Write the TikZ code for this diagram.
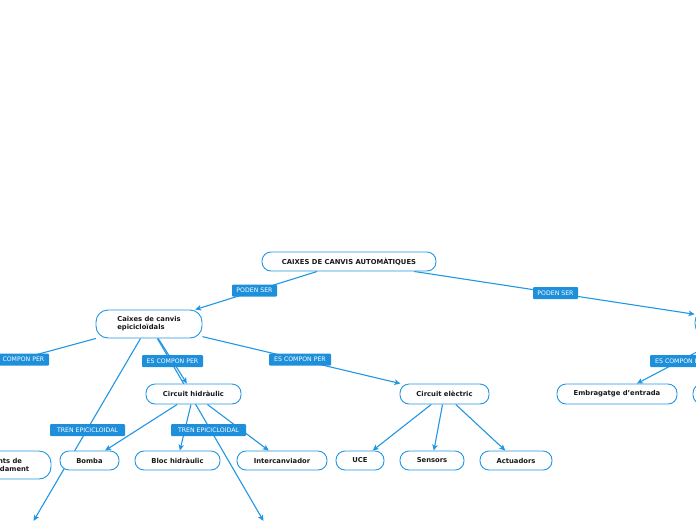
\documentclass[tikz,border=0pt]{standalone}
\usepackage{fontspec}
\setmainfont{DejaVu Sans}
\usetikzlibrary{arrows.meta}
\definecolor{mmblue}{RGB}{33,150,227}
\definecolor{lblblue}{RGB}{30,143,219}
\pgfdeclarelayer{bg}
\pgfsetlayers{bg,main}
\tikzset{
  topic/.style={draw=mmblue, line width=0.9pt, fill=white, rounded corners=9pt,
    inner sep=0pt, font=\fontsize{6.8}{8.2}\selectfont\bfseries, text=black!90},
  lbl/.style={fill=lblblue, text=white, rounded corners=1pt, inner sep=0pt,
    font=\fontsize{6.2}{6.5}\selectfont, minimum height=12pt},
  conn/.style={draw=mmblue, line width=1.1pt},
  arr/.style={conn, -{Stealth[length=6pt,width=5.5pt,inset=1.5pt]}},
}
\begin{document}
\begin{tikzpicture}[x=1pt,y=-1pt]
\useasboundingbox (0,0) rectangle (696,520);
\clip (0,0) rectangle (696,520);
% topics
\node[topic, minimum width=174pt, minimum height=19pt] (root) at (349,261.5) {CAIXES DE CANVIS AUTOMÀTIQUES};
\node[topic, minimum width=106pt, minimum height=28pt, rounded corners=12pt, align=left] (caixes) at (149,324) {Caixes de canvis\\epicicloïdals};
\node[topic, minimum width=114pt, minimum height=26pt, rounded corners=12pt] (right) at (752,323) {};
\node[topic, minimum width=95pt, minimum height=20pt] (hidr) at (193.5,394) {Circuit hidràulic};
\node[topic, minimum width=89pt, minimum height=20pt] (elec) at (444.5,394) {Circuit elèctric};
\node[topic, minimum width=120pt, minimum height=20pt] (embr) at (617,394) {Embragatge d'entrada};
\node[topic, minimum width=100pt, minimum height=20pt] (right2) at (743,394) {};
\node[topic, minimum width=98pt, minimum height=28pt, rounded corners=12pt, align=left] (elem) at (2,465) {Elements de\\comandament};
\node[topic, minimum width=59pt, minimum height=19pt] (bomba) at (89.5,460.5) {Bomba};
\node[topic, minimum width=85pt, minimum height=19pt] (bloc) at (177.5,460.5) {Bloc hidràulic};
\node[topic, minimum width=90pt, minimum height=19pt] (inter) at (282,460.5) {Intercanviador};
\node[topic, minimum width=48pt, minimum height=19pt] (uce) at (360,460.5) {UCE};
\node[topic, minimum width=64pt, minimum height=19pt] (sens) at (432,460.5) {Sensors};
\node[topic, minimum width=72pt, minimum height=19pt] (act) at (516,460.5) {Actuadors};
% free ends
\coordinate (offA) at (-112,395);
\coordinate (offB) at (33.5,521);
\coordinate (offC) at (263.5,521);
\begin{pgfonlayer}{bg}
\draw[arr] (root) -- (caixes);
\draw[arr] (root) -- (right);
\draw[arr] (caixes) -- (offA);
\draw[arr] (caixes) -- (offB);
\draw[arr] (caixes) -- (offC);
\draw[arr] (caixes) -- (hidr);
\draw[arr] (caixes) -- (elec);
\draw[arr] (right) -- (embr);
\draw[arr] (hidr) -- (bomba);
\draw[arr] (hidr) -- (bloc);
\draw[arr] (hidr) -- (inter);
\draw[arr] (elec) -- (uce);
\draw[arr] (elec) -- (sens);
\draw[arr] (elec) -- (act);
\end{pgfonlayer}
% labels
\node[lbl, minimum width=45pt] (l1) at (254.5,290.5) {PODEN SER};
\node[lbl, minimum width=45pt] (l2) at (555.5,293) {PODEN SER};
\node[lbl, minimum width=61pt] (l3) at (18.5,359.5) {ES COMPON PER};
\node[lbl, minimum width=61pt] (l4) at (172.5,361) {ES COMPON PER};
\node[lbl, minimum width=62pt] (l5) at (300,359.5) {ES COMPON PER};
\node[lbl, minimum width=62pt] (l6) at (681,361) {ES COMPON PER};
\node[lbl, minimum width=75pt] (l7) at (87.5,430) {TREN EPICICLOIDAL};
\node[lbl, minimum width=75pt] (l8) at (208.5,430) {TREN EPICICLOIDAL};
\end{tikzpicture}
\end{document}
